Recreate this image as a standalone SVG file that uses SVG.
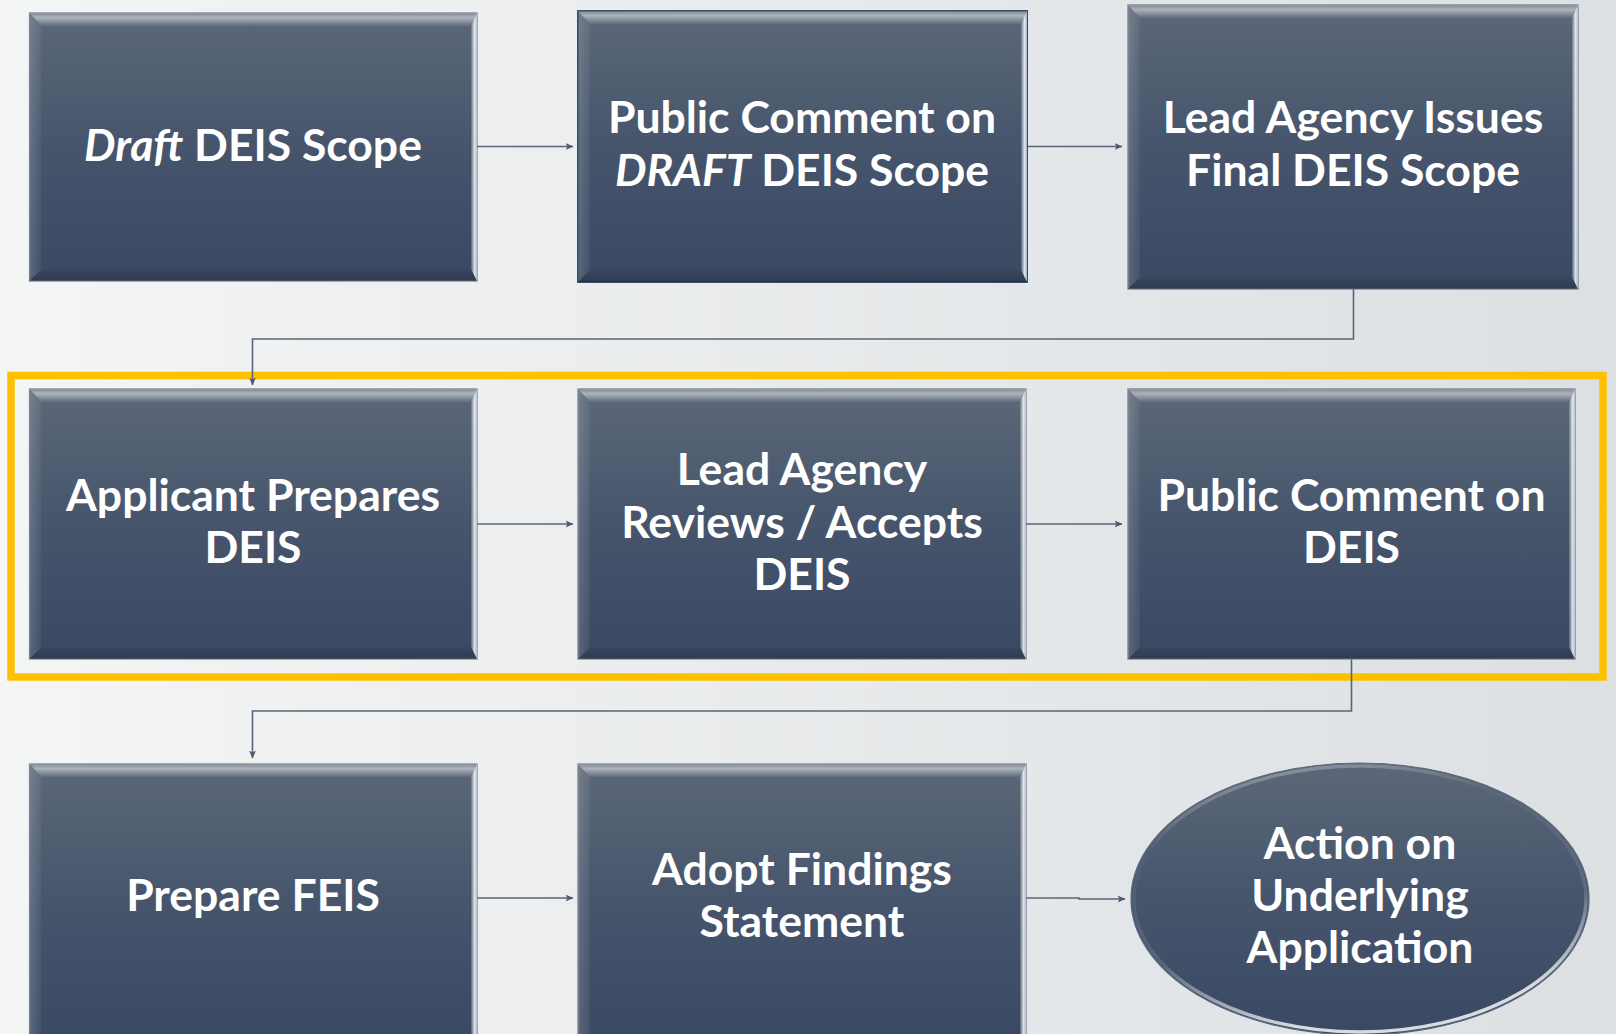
<svg xmlns="http://www.w3.org/2000/svg" width="1616" height="1034" viewBox="0 0 1616 1034">
  <defs>
    <linearGradient id="bg" x1="0" y1="0" x2="1" y2="0">
      <stop offset="0" stop-color="#f4f5f5"/>
      <stop offset="1" stop-color="#dce0e3"/>
    </linearGradient>
    <linearGradient id="bodyGrad" x1="0" y1="0" x2="0" y2="1">
      <stop offset="0" stop-color="#5c6878"/>
      <stop offset="0.5" stop-color="#46556c"/>
      <stop offset="1" stop-color="#3a4963"/>
    </linearGradient>
    <linearGradient id="bevTop" x1="0" y1="0" x2="0" y2="1">
      <stop offset="0" stop-color="#ffffff" stop-opacity="0.22"/>
      <stop offset="0.35" stop-color="#ffffff" stop-opacity="0.5"/>
      <stop offset="1" stop-color="#ffffff" stop-opacity="0.04"/>
    </linearGradient>
    <linearGradient id="bevLeft" x1="0" y1="0" x2="1" y2="0">
      <stop offset="0" stop-color="#ffffff" stop-opacity="0.16"/>
      <stop offset="1" stop-color="#ffffff" stop-opacity="0.04"/>
    </linearGradient>
    <linearGradient id="bevRight" x1="0" y1="0" x2="1" y2="0">
      <stop offset="0" stop-color="#ffffff" stop-opacity="0.12"/>
      <stop offset="0.6" stop-color="#ffffff" stop-opacity="0.85"/>
      <stop offset="1" stop-color="#cfe4f8" stop-opacity="0.7"/>
    </linearGradient>
    <linearGradient id="bevBottom" x1="0" y1="0" x2="0" y2="1">
      <stop offset="0" stop-color="#000000" stop-opacity="0.04"/>
      <stop offset="1" stop-color="#000000" stop-opacity="0.2"/>
    </linearGradient>
    <linearGradient id="rimGrad" x1="0" y1="0" x2="0.3" y2="1">
      <stop offset="0" stop-color="#ffffff" stop-opacity="0.4"/>
      <stop offset="0.3" stop-color="#ffffff" stop-opacity="0.02"/>
      <stop offset="0.7" stop-color="#ffffff" stop-opacity="0.12"/>
      <stop offset="1" stop-color="#ffffff" stop-opacity="0.8"/>
    </linearGradient>
    <marker id="arrow" viewBox="0 0 8 8" refX="7.5" refY="4" markerWidth="8" markerHeight="8" markerUnits="userSpaceOnUse" orient="auto">
      <path d="M0,0.5 L8,4 L0,7.5 L2,4 Z" fill="#4f5a6b"/>
    </marker>
  </defs>
  <style>
    .body { fill: url(#bodyGrad); stroke: #6f7a89; stroke-width: 1.2; }
    .body.navy { stroke: #23405f; stroke-width: 1.8; }
    .bt { fill: url(#bevTop); }
    .bl { fill: url(#bevLeft); }
    .br { fill: url(#bevRight); }
    .bb { fill: url(#bevBottom); }
    .label { font-family: Lato, "Open Sans", "Liberation Sans", sans-serif; font-weight: 700; font-size: 44.5px; fill: #ffffff; text-anchor: middle; }
    .it { font-style: italic; }
    .conn { fill: none; stroke: #5a6476; stroke-width: 1.6; marker-end: url(#arrow); }
    .focus { fill: none; stroke: #ffc000; stroke-width: 7.5; }
  </style>

  <rect x="0" y="0" width="1616" height="1034" fill="url(#bg)"/>

  <!-- highlight frame around the DEIS stage -->
  <rect class="focus" x="11" y="375.5" width="1592" height="301.5"/>

  <!-- connectors -->
  <g id="connectors">
    <path class="conn" d="M477,146.5 H573"/>
    <path class="conn" d="M1027,146.5 H1122"/>
    <path class="conn" d="M1353.5,289 V339 H252.5 V385"/>
    <path class="conn" d="M477,524 H573"/>
    <path class="conn" d="M1026,524 H1122"/>
    <path class="conn" d="M1351.5,659 V711 H252.5 V758"/>
    <path class="conn" d="M477,898 H573"/>
    <path class="conn" d="M1026,898 H1079 V899 H1125"/>
  </g>

  <!-- row 1 -->
  <g id="draft-scope">
    <rect class="body" x="29.5" y="13" width="447.5" height="268"/>
    <polygon class="bt" points="29.5,13 477,13 471,26 41.5,26"/>
    <polygon class="bl" points="29.5,13 41.5,26 41.5,269 29.5,281"/>
    <polygon class="br" points="477,13 477,281 471,269 471,26"/>
    <polygon class="bb" points="29.5,281 41.5,269 471,269 477,281"/>
    <text class="label" x="253" y="161"><tspan class="it">Draft</tspan> DEIS Scope</text>
  </g>

  <g id="comment-draft-scope">
    <rect class="body navy" x="578" y="11" width="449" height="271"/>
    <polygon class="bt" points="578,11 1027,11 1021,24 590,24"/>
    <polygon class="bl" points="578,11 590,24 590,270 578,282"/>
    <polygon class="br" points="1027,11 1027,282 1021,270 1021,24"/>
    <polygon class="bb" points="578,282 590,270 1021,270 1027,282"/>
    <text class="label" x="802" y="133">Public Comment on</text>
    <text class="label" x="802" y="186"><tspan class="it">DRAFT</tspan> DEIS Scope</text>
  </g>

  <g id="final-scope">
    <rect class="body" x="1128" y="5" width="450" height="284"/>
    <polygon class="bt" points="1128,5 1578,5 1572,18 1140,18"/>
    <polygon class="bl" points="1128,5 1140,18 1140,277 1128,289"/>
    <polygon class="br" points="1578,5 1578,289 1572,277 1572,18"/>
    <polygon class="bb" points="1128,289 1140,277 1572,277 1578,289"/>
    <text class="label" x="1353" y="133">Lead Agency Issues</text>
    <text class="label" x="1353" y="186">Final DEIS Scope</text>
  </g>

  <!-- row 2 -->
  <g id="applicant-prepares">
    <rect class="body" x="29.5" y="389" width="447.5" height="270"/>
    <polygon class="bt" points="29.5,389 477,389 471,402 41.5,402"/>
    <polygon class="bl" points="29.5,389 41.5,402 41.5,647 29.5,659"/>
    <polygon class="br" points="477,389 477,659 471,647 471,402"/>
    <polygon class="bb" points="29.5,659 41.5,647 471,647 477,659"/>
    <text class="label" x="253" y="511">Applicant Prepares</text>
    <text class="label" x="253" y="563">DEIS</text>
  </g>

  <g id="agency-reviews">
    <rect class="body" x="578" y="389" width="448" height="270"/>
    <polygon class="bt" points="578,389 1026,389 1020,402 590,402"/>
    <polygon class="bl" points="578,389 590,402 590,647 578,659"/>
    <polygon class="br" points="1026,389 1026,659 1020,647 1020,402"/>
    <polygon class="bb" points="578,659 590,647 1020,647 1026,659"/>
    <text class="label" x="802" y="485">Lead Agency</text>
    <text class="label" x="802" y="538">Reviews / Accepts</text>
    <text class="label" x="802" y="590">DEIS</text>
  </g>

  <g id="comment-deis">
    <rect class="body" x="1128" y="389" width="447" height="270"/>
    <polygon class="bt" points="1128,389 1575,389 1569,402 1140,402"/>
    <polygon class="bl" points="1128,389 1140,402 1140,647 1128,659"/>
    <polygon class="br" points="1575,389 1575,659 1569,647 1569,402"/>
    <polygon class="bb" points="1128,659 1140,647 1569,647 1575,659"/>
    <text class="label" x="1351.5" y="511">Public Comment on</text>
    <text class="label" x="1351.5" y="563">DEIS</text>
  </g>

  <!-- row 3 -->
  <g id="prepare-feis">
    <rect class="body" x="29.5" y="764" width="447.5" height="280"/>
    <polygon class="bt" points="29.5,764 477,764 471,777 41.5,777"/>
    <polygon class="bl" points="29.5,764 41.5,777 41.5,1044 29.5,1044"/>
    <polygon class="br" points="477,764 477,1044 471,1044 471,777"/>
    <text class="label" x="253" y="911">Prepare FEIS</text>
  </g>

  <g id="adopt-findings">
    <rect class="body" x="578" y="764" width="448" height="280"/>
    <polygon class="bt" points="578,764 1026,764 1020,777 590,777"/>
    <polygon class="bl" points="578,764 590,777 590,1044 578,1044"/>
    <polygon class="br" points="1026,764 1026,1044 1020,1044 1020,777"/>
    <text class="label" x="802" y="885">Adopt Findings</text>
    <text class="label" x="802" y="937">Statement</text>
  </g>

  <g id="underlying-action">
    <ellipse cx="1360" cy="899" rx="229" ry="136" fill="url(#bodyGrad)" stroke="#5a687c" stroke-width="1.2"/>
    <ellipse cx="1360" cy="899" rx="226" ry="133" fill="none" stroke="url(#rimGrad)" stroke-width="3.5"/>
    <text class="label" x="1360" y="859">Action on</text>
    <text class="label" x="1360" y="911">Underlying</text>
    <text class="label" x="1360" y="963">Application</text>
  </g>
</svg>
